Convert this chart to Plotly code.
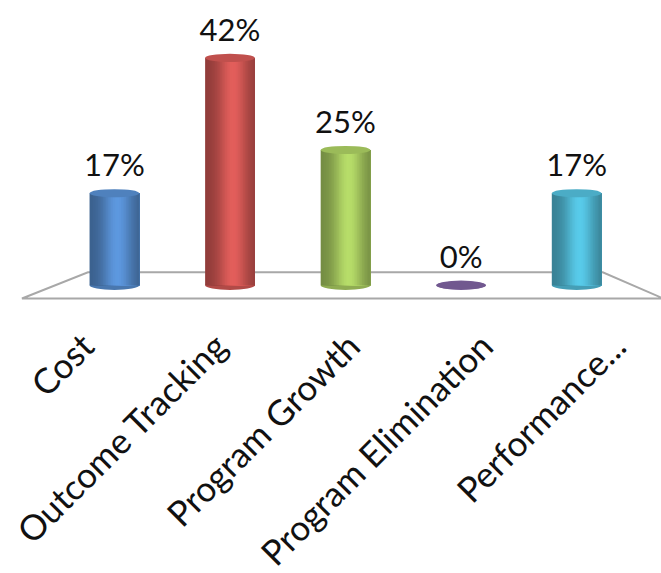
import math
import plotly.graph_objects as go

# Survey results: share of respondents choosing each priority
categories = ["Cost", "Outcome Tracking", "Program Growth", "Program Elimination", "Performance..."]
values = [17, 42, 25, 0, 17]
value_labels = ["17%", "42%", "25%", "0%", "17%"]
colors = ["#4F81BD", "#C0504D", "#9BBB59", "#8064A2", "#4BACC6"]

FONT = "Lato"
BAR_WIDTH = 0.43      # fraction of category spacing
N_STRIPS = 30         # vertical strips used to shade each cylinder
CAP_HALF = 0.75       # half-height of the elliptical cap, in y units
X_RANGE = [-0.99, 4.73]
Y_RANGE = [-4.2, 52.7]


def hex_to_rgb(h):
    h = h.lstrip("#")
    return [int(h[i:i + 2], 16) for i in (0, 2, 4)]


def shade(h, g):
    r, gg, b = hex_to_rgb(h)
    return "rgb({},{},{})".format(*[max(0, min(255, int(round(c * g)))) for c in (r, gg, b)])


def brightness(t):
    # dark edges, highlight a little right of centre
    return 0.74 + 0.44 * math.exp(-((t - 0.56) / 0.30) ** 2)


xs = list(range(len(categories)))
fig = go.Figure()

# Cylinder bodies: each strip runs from its left edge to the bar's right edge,
# and the next strip paints over it, so no seams show between strips.
step = BAR_WIDTH / N_STRIPS
for k in range(N_STRIPS):
    t = (k + 0.5) / N_STRIPS
    fig.add_trace(go.Bar(
        x=xs, y=values,
        width=BAR_WIDTH - k * step,
        offset=-BAR_WIDTH / 2 + k * step,
        marker=dict(color=[shade(c, brightness(t)) for c in colors], line=dict(width=0)),
        hoverinfo="skip", showlegend=False,
    ))

# Value labels above the cylinders
fig.add_trace(go.Scatter(
    x=xs, y=values, mode="text+markers", text=value_labels,
    textposition="top center",
    marker=dict(size=13, opacity=0),
    textfont=dict(family=FONT, size=31, color="#111111"),
    hoverinfo="skip", showlegend=False,
))

# Floor of the 3-D plot area
shapes = [dict(
    type="path", xref="x", yref="y", layer="below",
    path="M -0.229,2.4 L 4.226,2.4 L 4.75,-2.45 L -0.80,-2.45 Z",
    fillcolor="white", line=dict(color="#A8A8A8", width=2),
)]

# Rounded bottoms and tops of the cylinders
for x, v, c in zip(xs, values, colors):
    shapes.append(dict(
        type="circle", xref="x", yref="y", layer="below",
        x0=x - BAR_WIDTH / 2, x1=x + BAR_WIDTH / 2,
        y0=-CAP_HALF * 1.15, y1=CAP_HALF * 1.15,
        fillcolor=shade(c, 0.92), line=dict(width=0),
    ))
    shapes.append(dict(
        type="circle", xref="x", yref="y", layer="above",
        x0=x - BAR_WIDTH / 2, x1=x + BAR_WIDTH / 2,
        y0=v - CAP_HALF, y1=v + CAP_HALF,
        fillcolor=shade(c, 1.0 if v > 0 else 0.88), line=dict(width=0),
    ))

# Category axis drawn separately, spread wider than the bars
LABEL_START_PX = 84
LABEL_STEP_PX = 133
lab_lo = -LABEL_START_PX / LABEL_STEP_PX
lab_hi = lab_lo + 661 / LABEL_STEP_PX

fig.update_layout(
    width=661, height=573,
    margin=dict(l=0, r=0, t=0, b=263),
    paper_bgcolor="white", plot_bgcolor="white",
    barmode="overlay",
    shapes=shapes,
    xaxis=dict(range=X_RANGE, showticklabels=False, showgrid=False,
               zeroline=False, showline=False, ticks=""),
    xaxis2=dict(range=[lab_lo, lab_hi], overlaying="x", anchor="y", side="bottom",
                tickmode="array", tickvals=xs, ticktext=categories,
                tickangle=-45, ticks="", showgrid=False, zeroline=False, showline=False,
                ticklabelstandoff=10,
                tickfont=dict(family=FONT, size=35, color="#111111")),
    yaxis=dict(range=Y_RANGE, visible=False),
)

# Put an invisible trace on xaxis2 so the axis is drawn
fig.add_trace(go.Scatter(x=xs, y=[None] * len(xs), xaxis="x2", yaxis="y",
                         mode="markers", showlegend=False, hoverinfo="skip"))

fig.write_html("out.html")
